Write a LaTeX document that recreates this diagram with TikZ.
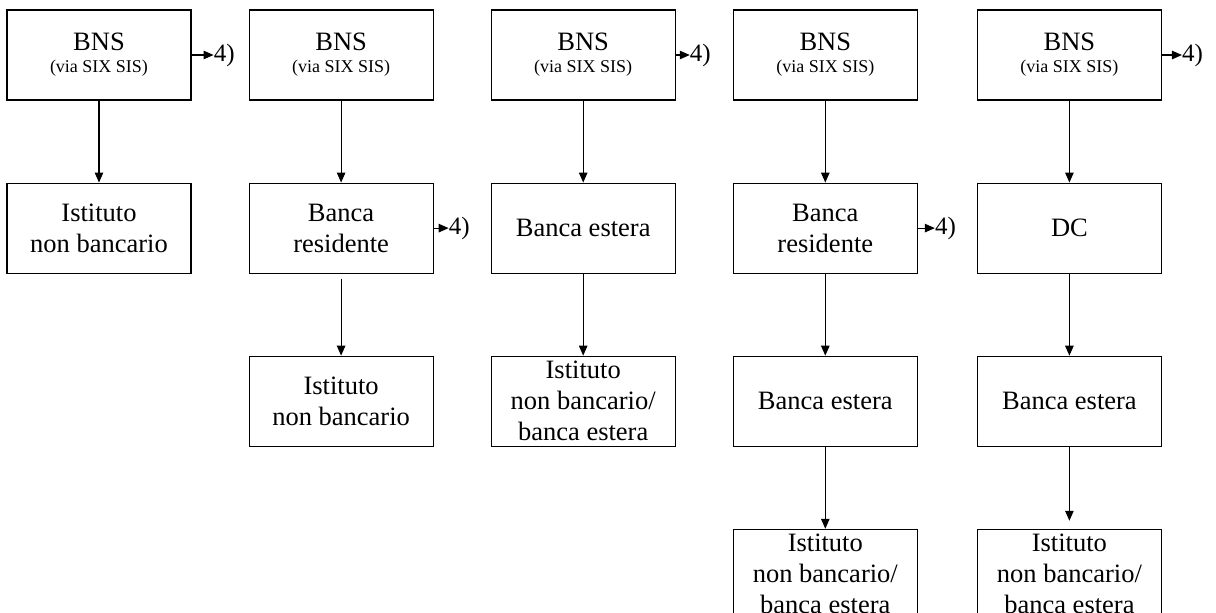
\documentclass[tikz,border=0pt]{standalone}
\usepackage{fontspec}
\setmainfont{Liberation Serif}
\usetikzlibrary{positioning,arrows.meta}

\begin{document}
\begin{tikzpicture}[x=1pt,y=1pt,
    box/.style={draw, line width=1.1pt, minimum width=184pt, minimum height=90pt,
      inner sep=0pt, align=center, font=\fontsize{26.5}{31}\selectfont},
    note/.style={inner sep=0pt, font=\fontsize{25}{30}\selectfont},
    link/.style={-{Triangle[length=10pt,width=8.5pt]}, line width=1.1pt},
    node distance=82pt and 57pt]
  \useasboundingbox (0,0) rectangle (1216,-613);
  \clip (0,0) rectangle (1216,-613);
  \newcommand{\bns}{BNS\\[-9pt]{\fontsize{18}{20}\selectfont (via SIX SIS)}}
  % Define nodes
  \node[box] (bnsA) at (99,-55) {\bns};
  \node[box, below=of bnsA] (istA) {Istituto\\non bancario};
  \node[box, right=of bnsA] (bnsB) {\bns};
  \node[box, below=of bnsB] (resB) {Banca\\residente};
  \node[box, below=of resB] (istB) {Istituto\\non bancario};
  \node[box, right=of bnsB] (bnsC) {\bns};
  \node[box, below=of bnsC] (estC) {Banca estera};
  \node[box, below=of estC] (mixC) {Istituto\\non bancario/\\banca estera};
  \node[box, right=of bnsC] (bnsD) {\bns};
  \node[box, below=of bnsD] (resD) {Banca\\residente};
  \node[box, below=of resD] (estD) {Banca estera};
  \node[box, below=of estD] (mixD) {Istituto\\non bancario/\\banca estera};
  \node[box, right=59pt of bnsD] (bnsE) {\bns};
  \node[box, below=of bnsE] (dcE) {DC};
  \node[box, below=of dcE] (estE) {Banca estera};
  \node[box, below=of estE] (mixE) {Istituto\\non bancario/\\banca estera};
  % footnote marks
  \node[note, right=22pt of bnsA] (outA) {4)};
  \node[note, right=15pt of resB] (outB) {4)};
  \node[note, right=14pt of bnsC] (outC) {4)};
  \node[note, right=17pt of resD] (outD) {4)};
  \node[note, right=20pt of bnsE] (outE) {4)};
  % Connect the nodes
  \draw[link] (bnsA) -- (istA);
  \draw[link] (bnsB) -- (resB);
  \draw[link, shorten <=5pt] (resB) -- (istB);
  \draw[link] (bnsC) -- (estC);
  \draw[link] (estC) -- (mixC);
  \draw[link] (bnsD) -- (resD);
  \draw[link] (resD) -- (estD);
  \draw[link] (estD) -- (mixD);
  \draw[link] (bnsE) -- (dcE);
  \draw[link] (dcE) -- (estE);
  \draw[link, shorten >=8pt] (estE) -- (mixE);
  \foreach \src/\dst in {bnsA/outA, resB/outB, bnsC/outC, resD/outD, bnsE/outE}
    \draw[link] (\src) -- (\dst);
\end{tikzpicture}
\end{document}
